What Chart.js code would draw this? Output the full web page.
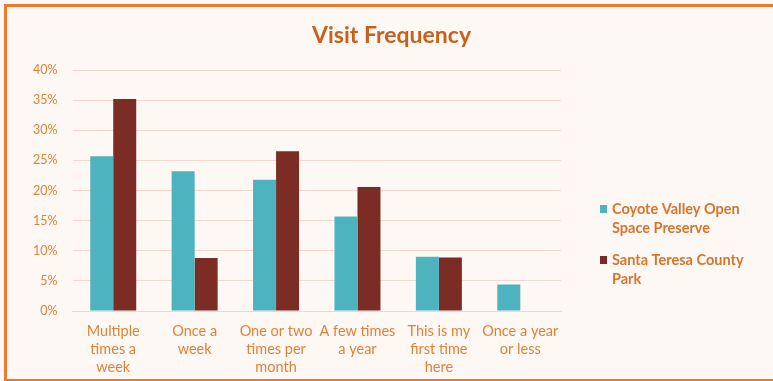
<!DOCTYPE html>
<html>
<head>
<meta charset="utf-8">
<script src="https://cdn.jsdelivr.net/npm/chart.js@4"></script>
<style>
  html, body { margin: 0; padding: 0; background: #fdf8f3; }
  .frame {
    position: absolute; left: 4px; top: 4px; width: 769px; height: 372px;
    border-left: 3px solid #ec7a2e; border-top: 3px solid #ec7a2e; border-bottom: 3px solid #ec7a2e;
    background: #fdf8f3;
  }
  canvas { display: block; }
</style>
</head>
<body>
<div class="frame"><canvas id="c" width="769" height="372"></canvas></div>
<script>
// categories & values (percent)
const categories = [
  ['Multiple', 'times a', 'week'],
  ['Once a', 'week'],
  ['One or two', 'times per', 'month'],
  ['A few times', 'a year'],
  ['This is my', 'first time', 'here'],
  ['Once a year', 'or less'],
];
const coyoteValley = [25.7, 23.2, 21.8, 15.7, 9.0, 4.4];
const santaTeresa  = [35.2, 8.8, 26.5, 20.6, 8.9, 0];
const seriesNames = [
  ['Coyote Valley Open', 'Space Preserve'],
  ['Santa Teresa County', 'Park'],
];
const yTicks = [0, 5, 10, 15, 20, 25, 30, 35, 40];
const chartTitle = 'Visit Frequency';

const TEAL = '#4cb3bf';
const MAROON = '#7b2d25';
const ORANGE = '#e0823a';
const FONT = 'Lato, "Open Sans", sans-serif';

// title centred on the whole frame + legend with wrapped lines on the right
const decor = {
  id: 'decor',
  afterDraw(chart) {
    const ctx = chart.ctx;
    ctx.save();
    ctx.font = 'bold 23px ' + FONT;
    ctx.fillStyle = '#c9611e';
    ctx.textAlign = 'center';
    ctx.textBaseline = 'middle';
    ctx.fillText(chartTitle, chart.width / 2, 29);

    const colors = [TEAL, MAROON];
    const x0 = 593;
    let y = 202;
    ctx.font = 'bold 14.5px ' + FONT;
    ctx.textAlign = 'left';
    seriesNames.forEach((lines, i) => {
      ctx.fillStyle = colors[i];
      ctx.fillRect(x0, y - 4, 7, 8);
      ctx.fillStyle = '#d9742c';
      lines.forEach((ln, j) => ctx.fillText(ln, x0 + 12, y + j * 19));
      y += 51;
    });
    ctx.restore();
  }
};

new Chart(document.getElementById('c'), {
  type: 'bar',
  data: {
    labels: categories,
    datasets: [
      { label: seriesNames[0].join(' '), data: coyoteValley, backgroundColor: TEAL },
      { label: seriesNames[1].join(' '), data: santaTeresa, backgroundColor: MAROON },
    ],
  },
  options: {
    responsive: false,
    animation: false,
    layout: { padding: { left: 11, right: 215, top: 63, bottom: 0 } },
    datasets: { bar: { categoryPercentage: 0.565, barPercentage: 1 } },
    plugins: {
      legend: { display: false },
      tooltip: { enabled: false },
      title: { display: false },
    },
    scales: {
      x: {
        afterFit: (axis) => { axis.height = 68; },
        grid: { display: false },
        border: { color: '#f1d8cc' },
        ticks: {
          color: ORANGE,
          font: { family: FONT, size: 14.5, lineHeight: 1.25 },
          maxRotation: 0, autoSkip: false, padding: 3,
        },
      },
      y: {
        min: 0, max: 40,
        afterBuildTicks: (axis) => { axis.ticks = yTicks.map((v) => ({ value: v })); },
        grid: { color: '#f5d8cd', drawTicks: false },
        border: { display: false },
        ticks: {
          color: ORANGE,
          padding: 15,
          font: { family: FONT, size: 12.5 },
          callback: (v) => v + '%',
        },
      },
    },
  },
  plugins: [decor],
});
</script>
</body>
</html>
